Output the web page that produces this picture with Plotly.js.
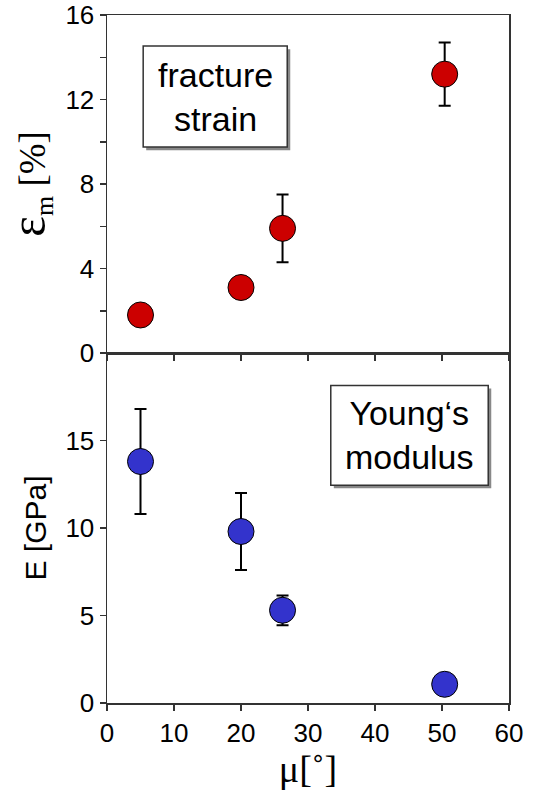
<!DOCTYPE html>
<html><head><meta charset="utf-8">
<script src="https://cdn.plot.ly/plotly-3.0.1.min.js"></script>
<style>html,body{margin:0;padding:0;background:#fff}</style>
</head><body>
<div id="chart" style="width:543px;height:804px"></div>
<script>
// data
var angle = [5, 20, 26.2, 50.4];
var strain = [1.8, 3.1, 5.9, 13.2];
var strainErr = [0, 0, 1.6, 1.5];
var modulus = [13.8, 9.8, 5.3, 1.07];
var modulusErr = [3.0, 2.2, 0.85, 0];
var xTicks = [0, 10, 20, 30, 40, 50, 60];
var strainTicks = [0, 2, 4, 6, 8, 10, 12, 14, 16];
var strainTickText = ['0', '', '4', '', '8', '', '12', '', '16'];
var modulusTicks = [0, 5, 10, 15];

var sans = 'Liberation Sans, Arial, Helvetica, sans-serif';
var serif = 'Liberation Serif, Times New Roman, serif';

var traces = [
  {x: angle, y: strain, xaxis: 'x2', yaxis: 'y2', mode: 'markers', type: 'scatter',
   marker: {size: 26, color: '#cc0000', line: {color: '#000', width: 1}},
   error_y: {type: 'data', array: strainErr, visible: true, color: '#000', thickness: 2, width: 6},
   cliponaxis: false},
  {x: angle, y: modulus, xaxis: 'x', yaxis: 'y', mode: 'markers', type: 'scatter',
   marker: {size: 26, color: '#3333cc', line: {color: '#000', width: 1}},
   error_y: {type: 'data', array: modulusErr, visible: true, color: '#000', thickness: 2, width: 6},
   cliponaxis: false}
];

var axLine = {showline: true, linecolor: '#333', linewidth: 1.5, mirror: true,
  ticks: 'outside', ticklen: 6, tickwidth: 1.5, tickcolor: '#333',
  showgrid: false, zeroline: false, fixedrange: true};

function ax(extra) { return Object.assign({}, axLine, extra); }

var split = 350 / 688;
var layout = {
  width: 543, height: 804,
  margin: {l: 107, r: 34, t: 15, b: 101},
  paper_bgcolor: '#fff', plot_bgcolor: 'rgba(0,0,0,0)',
  showlegend: false,
  font: {family: sans, size: 26, color: '#000'},
  xaxis: ax({domain: [0, 1], range: [0, 60], tickvals: xTicks, anchor: 'y',
    tickfont: {size: 26},
    title: {text: 'μ[˚]', font: {family: serif, size: 38}, standoff: 8}}),
  yaxis: ax({domain: [0, split], range: [0, 20], tickvals: modulusTicks, anchor: 'x',
    tickfont: {size: 26},
    title: {text: 'E [GPa]', font: {family: sans, size: 30}, standoff: 10}}),
  xaxis2: ax({domain: [0, 1], range: [0, 60], tickvals: xTicks, showticklabels: false, anchor: 'y2'}),
  yaxis2: ax({domain: [split, 1], range: [0, 16], tickvals: strainTicks, ticktext: strainTickText, anchor: 'x2',
    tickfont: {size: 26},
    title: {text: '<span style="font-size:50px">ε</span><sub>m</sub> [%]', font: {family: serif, size: 37}, standoff: 10}}),
  shapes: [
    {type: 'rect', xref: 'x2', yref: 'y2', x0: 5.85, x1: 27.35, y0: 9.6, y1: 14.38,
     fillcolor: '#888', line: {width: 0}},
    {type: 'rect', xref: 'x2', yref: 'y2', x0: 5.4, x1: 26.9, y0: 9.75, y1: 14.53,
     fillcolor: '#fff', line: {color: '#333', width: 1.5}},
    {type: 'rect', xref: 'x', yref: 'y', x0: 33.85, x1: 57.35, y0: 12.27, y1: 17.97,
     fillcolor: '#888', line: {width: 0}},
    {type: 'rect', xref: 'x', yref: 'y', x0: 33.4, x1: 56.9, y0: 12.44, y1: 18.14,
     fillcolor: '#fff', line: {color: '#333', width: 1.5}}
  ],
  annotations: [
    {xref: 'x2', yref: 'y2', x: 16.15, y: 12.14, text: 'fracture<br>strain', showarrow: false,
     font: {family: sans, size: 34, color: '#000'}, xanchor: 'center', yanchor: 'middle'},
    {xref: 'x', yref: 'y', x: 45.15, y: 15.29, text: 'Young‘s<br>modulus', showarrow: false,
     font: {family: sans, size: 34, color: '#000'}, xanchor: 'center', yanchor: 'middle'}
  ]
};

Plotly.newPlot('chart', traces, layout, {staticPlot: true, displayModeBar: false});
</script>
</body></html>
